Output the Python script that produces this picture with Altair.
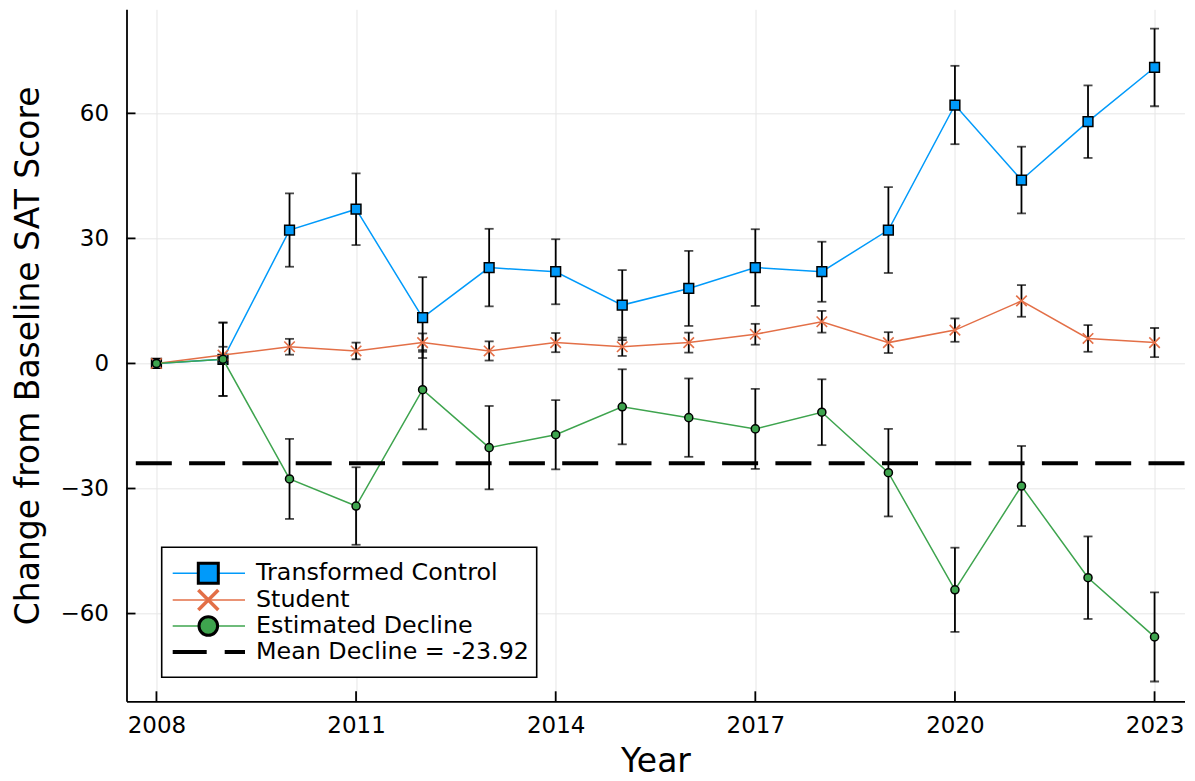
import altair as alt
import pandas as pd

# ---------------- data ----------------
years = list(range(2008, 2024))
control = [0, 1, 32, 37, 11, 23, 22, 14, 18, 23, 22, 32, 62, 44, 58, 71]
control_err = [0, 8.8, 8.8, 8.6, 9.7, 9.3, 7.8, 8.4, 9.0, 9.2, 7.2, 10.3, 9.4, 8.0, 8.7, 9.3]
student = [0, 2, 4, 3, 5, 3, 5, 4, 5, 7, 10, 5, 8, 15, 6, 5]
student_err = [0, 2.0, 1.9, 2.0, 2.2, 2.3, 2.3, 2.2, 2.4, 2.5, 2.6, 2.5, 2.8, 3.8, 3.2, 3.5]
decline = [0, 1, -27.7, -34.2, -6.3, -20.2, -17.1, -10.4, -13.0, -15.7, -11.7, -26.2, -54.3, -29.4, -51.4, -65.6]
decline_err = [0, 8.8, 9.6, 9.3, 9.5, 10.0, 8.3, 9.0, 9.4, 9.6, 7.9, 10.5, 10.1, 9.6, 9.9, 10.7]
mean_decline = [-23.92]
series_names = ["Transformed Control", "Student", "Estimated Decline", "Mean Decline = -23.92"]
x_ticks = [2008, 2011, 2014, 2017, 2020, 2023]
y_ticks = [-60, -30, 0, 30, 60]

# ---------------- styling ----------------
W, H = 1058, 692
FONT = "DejaVu Sans"
BLUE, ORANGE, GREEN = "#009AFA", "#E36F47", "#3EA44E"
XPATH = "M-1,-1L1,1M-1,1L1,-1"
TICK_FS, TITLE_FS = 23, 33

def frame(vals, errs):
    return pd.DataFrame({
        "year": years,
        "v": vals,
        "lo": [a - b for a, b in zip(vals, errs)],
        "hi": [a + b for a, b in zip(vals, errs)],
    })

xscale = alt.Scale(domain=[2007.55, 2023.45], nice=False, zero=False)
yscale = alt.Scale(domain=[-81.05, 84.96], nice=False, zero=False)

common = dict(grid=True, ticks=False, labelFlush=False, labelFont=FONT,
              labelFontSize=TICK_FS, labelColor="black", titleFont=FONT,
              titleFontSize=TITLE_FS, titleFontWeight="normal", titleColor="black",
              domainColor="black", domainWidth=1.8, gridColor="#e6e6e6", gridWidth=1,
              labelOverlap=False)
x_axis = alt.Axis(values=x_ticks, format="d", title="Year", labelPadding=13,
                  titleBaseline="alphabetic", titleY=70.5, titleX=W / 2,
                  titleAlign="center", **common)
y_axis = alt.Axis(values=y_ticks, format="d", title="Change from Baseline SAT Score",
                  labelPadding=18, titleBaseline="alphabetic", titleX=-88.5,
                  titleY=H / 2, titleAlign="center", titleAngle=270, **common)


def XE(field):
    return alt.X(field, scale=xscale, axis=x_axis)


def YE(field):
    return alt.Y(field, scale=yscale, axis=y_axis)


def series(df, color, point):
    base = alt.Chart(df)
    rule = base.mark_rule(color="black", strokeWidth=1.8).encode(
        x=XE("year:Q"), y=YE("lo:Q"), y2="hi:Q")
    cap_lo = base.mark_tick(orient="horizontal", size=9, thickness=1.8, color="black").encode(
        x=XE("year:Q"), y=YE("lo:Q"))
    cap_hi = base.mark_tick(orient="horizontal", size=9, thickness=1.8, color="black").encode(
        x=XE("year:Q"), y=YE("hi:Q"))
    line = base.mark_line(color=color, strokeWidth=1.5).encode(
        x=XE("year:Q"), y=YE("v:Q"))
    pts = base.mark_point(**point).encode(x=XE("year:Q"), y=YE("v:Q"))
    return [rule, cap_lo, cap_hi, line, pts]


layers = []
layers += series(frame(control, control_err), BLUE,
                 dict(shape="square", filled=True, fill=BLUE, stroke="black",
                      strokeWidth=1.5, size=95, opacity=1))
layers += series(frame(student, student_err), ORANGE,
                 dict(shape=XPATH, filled=False, stroke=ORANGE, strokeWidth=1.6,
                      size=110, opacity=1))
layers += series(frame(decline, decline_err), GREEN,
                 dict(shape="circle", filled=True, fill=GREEN, stroke="black",
                      strokeWidth=1.5, size=65, opacity=1))

mean_df = pd.DataFrame({"m": mean_decline})
layers.append(alt.Chart(mean_df).mark_rule(color="black", strokeWidth=4,
                                           strokeDash=[36, 17.3]).encode(
    y=YE("m:Q")))

# inward tick marks
ytick_df = pd.DataFrame({"t": y_ticks})
layers.append(alt.Chart(ytick_df).mark_rule(color="black", strokeWidth=1.8).encode(
    y=YE("t:Q"), x=alt.value(0), x2=alt.value(9)))
xtick_df = pd.DataFrame({"t": x_ticks})
layers.append(alt.Chart(xtick_df).mark_rule(color="black", strokeWidth=1.8).encode(
    x=XE("t:Q"), y=alt.value(H), y2=alt.value(H - 10)))

# ---------------- legend ----------------
one = pd.DataFrame({"k": [0]})
LX0, LX1, LY0, LY1 = 35.2, 410.2, 538, 668
layers.append(alt.Chart(one).mark_rect(fill="white", stroke="black", strokeWidth=1.6).encode(
    x=alt.value(LX0), x2=alt.value(LX1), y=alt.value(LY0), y2=alt.value(LY1)))

rows = [564, 590.7, 616.7, 642.7]
sx0, sx1, sxm, tx = 46.2, 118.5, 81.8, 129.5
leg_colors = [BLUE, ORANGE, GREEN, "black"]
for i, (name, col, ry) in enumerate(zip(series_names, leg_colors, rows)):
    if i < 3:
        layers.append(alt.Chart(one).mark_rule(color=col, strokeWidth=1.5).encode(
            x=alt.value(sx0), x2=alt.value(sx1), y=alt.value(ry)))
    else:
        layers.append(alt.Chart(one).mark_rule(color=col, strokeWidth=4, strokeDash=[34, 18]).encode(
            x=alt.value(sx0), x2=alt.value(sx1), y=alt.value(ry)))
    if i == 0:
        layers.append(alt.Chart(one).mark_point(shape="square", filled=True, fill=BLUE,
                                                stroke="black", strokeWidth=3, size=400,
                                                opacity=1).encode(
            x=alt.value(sxm), y=alt.value(ry)))
    elif i == 1:
        layers.append(alt.Chart(one).mark_point(shape=XPATH, filled=False, stroke=ORANGE,
                                                strokeWidth=3.5, size=400, opacity=1).encode(
            x=alt.value(sxm), y=alt.value(ry)))
    elif i == 2:
        layers.append(alt.Chart(one).mark_point(shape="circle", filled=True, fill=GREEN,
                                                stroke="black", strokeWidth=3, size=346,
                                                opacity=1).encode(
            x=alt.value(sxm), y=alt.value(ry)))
    layers.append(alt.Chart(one).mark_text(align="left", baseline="middle", fontSize=23.8,
                                           font=FONT, color="black").encode(
        x=alt.value(tx), y=alt.value(ry), text=alt.value(name)))

chart = alt.layer(*layers).properties(
    width=W, height=H,
    autosize=alt.AutoSizeParams(type="none"),
    padding={"left": 118.5, "top": 1.3, "right": 0, "bottom": 71.5},
).configure(background="white").configure_view(stroke=None)

chart.save("out.html", embed_options={"renderer": "svg", "actions": False})
